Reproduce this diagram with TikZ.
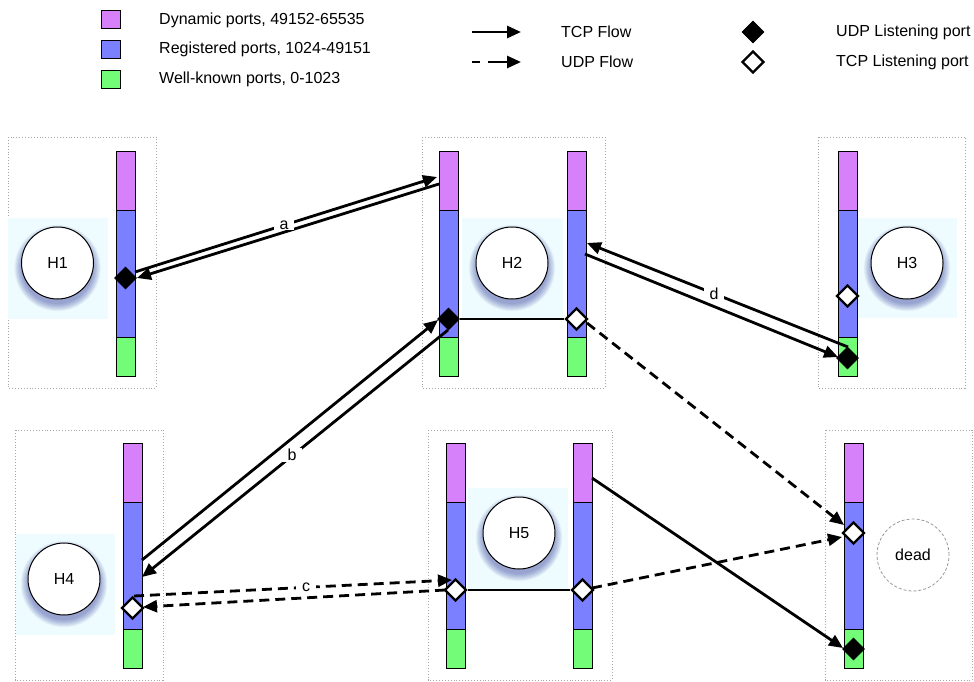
\documentclass[tikz,border=0pt]{standalone}
\usepackage{fontspec}
\setmainfont{Liberation Sans}
\usetikzlibrary{arrows.meta,shapes.geometric}

\definecolor{dynport}{RGB}{214,128,250}
\definecolor{regport}{RGB}{122,128,255}
\definecolor{wellport}{RGB}{114,252,120}
\definecolor{hostbg}{RGB}{238,252,255}
\definecolor{glow}{RGB}{40,50,150}

\tikzset{
  hostframe/.style={draw=black!35, dotted, line width=0.9pt},
  hostzone/.style={fill=hostbg, draw=none},
  seg/.style={draw=black, line width=1pt, minimum width=19pt, inner sep=0pt, outer sep=0pt},
  hostcircle/.style={circle, draw=black, line width=1pt, fill=white, minimum size=72pt, inner sep=0pt},
  deadcircle/.style={circle, draw=black!40, dash pattern=on 3pt off 2pt, line width=0.8pt, minimum size=72pt, inner sep=0pt},
  udpport/.style={diamond, fill=black, draw=black, line width=0.8pt, minimum width=22pt, minimum height=22pt, inner sep=0pt},
  tcpport/.style={diamond, fill=white, draw=black, line width=2.3pt, minimum width=22pt, minimum height=22pt, inner sep=0pt},
  tcpflow/.style={line width=2.8pt, -{Triangle[length=14pt,width=12pt]}},
  udpflow/.style={tcpflow, dash pattern=on 10pt off 6pt},
  flowlabel/.style={fill=white, inner xsep=6pt, inner ysep=1pt},
  legendbox/.style={draw=black, line width=1pt, minimum width=19pt, minimum height=18pt, inner sep=0pt},
  legendtext/.style={anchor=west, inner sep=0pt},
  link/.style={draw=black, line width=1.3pt}
}

% one column of port ranges: dynamic, registered, well-known
\newcommand\portbar[3]{%
  \node[seg, fill=dynport, minimum height=59pt, anchor=north west] (#1-dyn) at (#2,#3) {};
  \node[seg, fill=regport, minimum height=127pt, anchor=north] (#1-reg) at (#1-dyn.south) {};
  \node[seg, fill=wellport, minimum height=39pt, anchor=north] (#1-well) at (#1-reg.south) {};
}

% soft bluish shadow under a host circle
\newcommand\hostglow[2]{%
  \foreach \k in {1,...,9}{
    \fill[glow, opacity=0.06] (#1,#2+5) circle ({35+\k*0.9});
  }
}

\begin{document}
\begin{tikzpicture}[x=1pt, y=-1pt, font=\fontsize{16}{19}\selectfont]
\useasboundingbox (0,0) rectangle (974,682);

% ---------- legend ----------
\node[legendbox, fill=dynport]  (lgdyn)  at (110.5,20)   {};
\node[legendbox, fill=regport]  (lgreg)  at (110.5,49.5) {};
\node[legendbox, fill=wellport] (lgwell) at (110.5,79.5) {};
\node[legendtext] (lgdyntxt)  at (159,20)   {Dynamic ports, 49152-65535};
\node[legendtext] (lgregtxt)  at (159,49.5) {Registered ports, 1024-49151};
\node[legendtext] (lgwelltxt) at (159,79.5) {Well-known ports, 0-1023};

\coordinate (lgtcpA) at (472,32);
\coordinate (lgtcpB) at (521,32);
\coordinate (lgudpA) at (472,62);
\coordinate (lgudpB) at (521,62);
\draw[tcpflow] (lgtcpA) -- (lgtcpB);
\draw[tcpflow, dash pattern=on 8pt off 8pt on 40pt] (lgudpA) -- (lgudpB);
\node[legendtext] (lgtcptxt) at (561,32) {TCP Flow};
\node[legendtext] (lgudptxt) at (561,62) {UDP Flow};

\node[udpport] (lgudpport) at (753,32) {};
\node[tcpport] (lgtcpport) at (753,62) {};
\node[legendtext] (lgudpporttxt) at (836,32) {UDP Listening port};
\node[legendtext] (lgtcpporttxt) at (836,62) {TCP Listening port};

% ---------- host frames ----------
\draw[hostframe] (8,137) rectangle (156,388);
\draw[hostframe] (422,137) rectangle (605,388);
\draw[hostframe] (818,137) rectangle (965,388);
\draw[hostframe] (15,430) rectangle (163,680);
\draw[hostframe] (428,430) rectangle (612,680);
\draw[hostframe] (825,430) rectangle (972,680);

% ---------- host zones ----------
\fill[hostzone] (8,218) rectangle (108,319);
\fill[hostzone] (462,218) rectangle (563,318);
\fill[hostzone] (856,218) rectangle (957,318);
\fill[hostzone] (16,534) rectangle (115,635);
\fill[hostzone] (468,488) rectangle (568,590);

% ---------- port columns ----------
\portbar{p1}{116}{151}
\portbar{p2a}{439}{151}
\portbar{p2b}{567}{151}
\portbar{p3}{838}{151}
\portbar{p4}{123}{443}
\portbar{p5a}{446}{443}
\portbar{p5b}{573}{443}
\portbar{p6}{844}{443}

% ---------- hosts ----------
\hostglow{57.5}{263}
\hostglow{512}{263}
\hostglow{907}{263}
\hostglow{64}{579}
\hostglow{519}{533}
\node[hostcircle] (h1) at (57.5,263) {H1};
\node[hostcircle] (h2) at (512,263) {H2};
\node[hostcircle] (h3) at (907,263) {H3};
\node[hostcircle] (h4) at (64,579) {H4};
\node[hostcircle] (h5) at (519,533) {H5};
\node[deadcircle] (h6) at (913,555) {dead};

% ---------- listening ports ----------
\node[udpport] (h1udp)  at (125.5,278) {};
\node[udpport] (h2udp)  at (448.5,319) {};
\node[tcpport] (h2tcp)  at (576.5,319) {};
\node[tcpport] (h3tcp)  at (847.5,296) {};
\node[udpport] (h3udp)  at (847.5,358) {};
\node[tcpport] (h4tcp)  at (132.5,608) {};
\node[tcpport] (h5tcpa) at (455.5,590) {};
\node[tcpport] (h5tcpb) at (582.5,590) {};
\node[tcpport] (h6tcp)  at (853.5,533) {};
\node[udpport] (h6udp)  at (853.5,649) {};

% links between the two columns of one host
\draw[link] (h2udp.east) -- (h2tcp.west);
\draw[link] (h5tcpa.east) -- (h5tcpb.west);

% ---------- flow end points ----------
\coordinate (a1s) at (135,272);  \coordinate (a1e) at (437,177);
\coordinate (a2s) at (439,184);  \coordinate (a2e) at (137,278);
\coordinate (b1s) at (142,560);  \coordinate (b1e) at (438,320);
\coordinate (b2s) at (448,330);  \coordinate (b2e) at (142,577);
\coordinate (c1s) at (134,596);  \coordinate (c1e) at (452,580);
\coordinate (c2s) at (445,590);  \coordinate (c2e) at (143,607);
\coordinate (d1s) at (585,254);  \coordinate (d1e) at (838,357);
\coordinate (d2s) at (848,347);  \coordinate (d2e) at (587,243);
\coordinate (e1s) at (587,323);  \coordinate (e1e) at (844,525);
\coordinate (f1s) at (592,588);  \coordinate (f1e) at (842,537);
\coordinate (g1s) at (592,478);  \coordinate (g1e) at (843,648);

% ---------- flows ----------
\draw[tcpflow] (a1s) -- (a1e);
\draw[tcpflow] (a2s) -- (a2e);
\draw[tcpflow] (b1s) -- (b1e);
\draw[tcpflow] (b2s) -- (b2e);
\draw[udpflow] (c1s) -- (c1e);
\draw[udpflow] (c2s) -- (c2e);
\draw[tcpflow] (d1s) -- (d1e);
\draw[tcpflow] (d2s) -- (d2e);
\draw[udpflow] (e1s) -- (e1e);
\draw[udpflow] (f1s) -- (f1e);
\draw[tcpflow] (g1s) -- (g1e);

% ---------- flow labels ----------
\node[flowlabel] (la) at (284,225) {a};
\node[flowlabel] (lb) at (292,455) {b};
\node[flowlabel] (lc) at (306,587) {c};
\node[flowlabel] (ld) at (714,294) {d};
\end{tikzpicture}
\end{document}
